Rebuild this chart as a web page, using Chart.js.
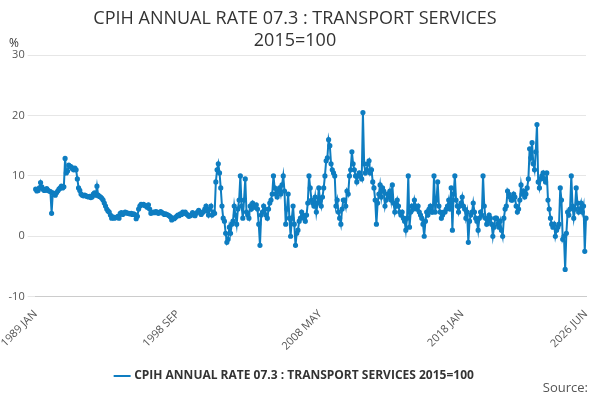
<!DOCTYPE html>
<html>
<head>
<meta charset="utf-8">
<script src="https://cdn.jsdelivr.net/npm/chart.js@4/dist/chart.umd.min.js"></script>
<style>
  body { margin: 0; font-family: "Open Sans", sans-serif; background: #fff; }
  #wrap { position: relative; width: 600px; height: 400px; }
  #source { position: absolute; right: 12px; bottom: 4px; font-size: 13px; color: #555; }
</style>
</head>
<body>
<div id="wrap">
  <canvas id="myChart" width="600" height="400"></canvas>
  <div id="source">Source:</div>
</div>
<script>
var monthNames = ["JAN","FEB","MAR","APR","MAY","JUN","JUL","AUG","SEP","OCT","NOV","DEC"];
var tickLabels = ["1989 JAN", "1998 SEP", "2008 MAY", "2018 JAN", "2026 JUN"];
var seriesName = "CPIH ANNUAL RATE 07.3 : TRANSPORT SERVICES 2015=100";

// yearly rows of monthly values, Jan 1989 .. Jun 2026
var rates1989to1999 = [
  7.8,7.5,7.6,8.0,8.9,8.2,7.8,7.6,7.7,7.9,7.6,7.5,
  7.4,3.8,7.2,7.0,6.8,7.2,7.5,7.8,8.0,8.3,8.0,8.2,
  12.9,10.5,10.8,11.8,11.6,11.5,11.2,11.0,11.3,11.0,9.5,8.0,
  7.6,7.0,6.8,6.7,6.8,6.7,6.6,6.5,6.6,6.4,6.5,7.0,
  7.2,6.8,8.3,6.8,6.6,6.5,6.3,6.0,5.5,5.0,4.5,4.2,
  4.0,3.5,3.0,3.2,3.0,3.1,3.1,3.3,3.0,3.8,3.9,3.6,
  3.8,4.0,3.9,3.8,3.8,3.7,3.8,3.6,3.7,3.6,2.9,3.3,
  4.5,5.0,5.3,5.2,5.3,5.1,5.0,4.8,5.2,4.5,3.8,3.9,
  4.0,3.9,4.1,4.0,3.8,3.9,4.1,3.9,3.8,3.6,3.7,3.6,
  3.5,3.4,3.2,2.7,3.0,2.9,3.1,3.3,3.5,3.4,3.7,3.6,
  4.0,3.8,4.0,3.7,3.5,3.3,3.4,3.6,3.9,3.5,3.4,3.8
];
var rates2000to2012 = [
  4.0,4.3,4.0,3.6,3.9,4.1,4.5,5.0,4.2,3.5,4.5,5.0,
  3.5,4.0,3.8,9.0,11.0,12.0,10.5,8.0,5.0,3.0,2.5,0.5,
  -1.0,-0.5,1.5,0.5,2.0,2.5,5.0,3.5,2.0,4.5,6.0,10.0,
  5.0,3.0,6.0,9.5,4.0,3.5,3.0,5.0,4.5,5.5,5.0,4.8,
  5.2,4.5,2.0,-1.5,3.5,4.0,5.0,4.5,3.5,3.0,4.5,5.5,
  6.0,7.0,10.0,8.0,7.0,6.5,7.5,8.0,7.0,8.5,10.0,7.5,
  2.0,4.5,7.0,3.0,0.0,3.0,5.0,2.0,-1.5,0.5,1.0,2.5,
  3.0,4.0,3.5,3.0,2.5,3.5,5.5,10.0,8.0,6.0,5.5,5.0,
  6.5,4.0,5.5,8.0,6.0,5.0,6.5,8.0,10.0,12.5,13.0,16.0,
  15.0,12.0,11.0,10.5,10.0,5.0,6.0,4.0,3.0,2.0,4.5,6.0,
  6.0,5.0,7.5,7.0,10.0,11.0,14.0,12.0,11.0,10.0,9.0,10.0,
  10.5,10.0,9.5,20.5,12.0,10.5,11.0,12.0,12.5,10.5,11.0,9.0,
  8.0,6.0,2.0,5.5,7.0,8.5,6.5,8.0,7.5,5.0,6.0,7.0
];
var rates2013to2026 = [
  6.5,7.5,6.0,8.5,5.5,4.0,5.0,6.0,5.0,4.0,3.5,4.0,
  3.0,2.5,1.0,3.0,10.0,1.5,4.0,5.0,4.5,6.0,5.0,4.5,
  5.0,4.0,3.5,3.0,2.0,0.0,2.5,4.0,3.5,4.5,5.0,4.0,
  4.0,10.0,4.0,6.0,9.0,5.0,4.0,3.0,3.5,4.0,4.0,4.5,
  5.0,6.0,4.5,8.0,1.0,7.0,10.0,6.0,5.0,4.0,5.0,5.5,
  6.5,5.0,4.5,3.0,4.0,-1.0,2.5,3.5,4.0,5.5,4.0,3.0,
  2.5,1.0,3.0,4.0,3.5,10.0,5.0,3.0,2.0,2.5,3.5,3.0,
  2.0,0.0,1.5,3.0,3.0,2.0,1.5,2.5,1.0,0.0,3.0,4.5,
  5.0,7.5,7.0,6.5,6.0,6.0,7.0,6.5,5.0,4.0,4.5,6.0,
  8.5,7.0,7.5,6.5,7.0,8.0,9.5,14.5,13.0,15.5,12.0,11.0,
  14.0,18.5,9.0,8.0,9.5,10.0,10.5,9.5,9.0,10.5,6.0,4.5,
  3.0,2.0,1.5,2.0,0.0,1.0,1.5,2.0,8.0,6.0,-0.5,0.0,
  -5.5,0.5,4.0,3.5,4.5,10.0,5.0,3.0,4.5,8.0,5.5,4.0,
  4.5,5.5,4.0,5.0,-2.5,3.0
];
var rates = rates1989to1999.concat(rates2000to2012, rates2013to2026);

var labels = [];
for (var i = 0; i < rates.length; i++) {
  labels.push((1989 + Math.floor(i / 12)) + " " + monthNames[i % 12]);
}

var blue = "rgb(14, 125, 193)";
var ctx = document.getElementById("myChart").getContext("2d");
new Chart(ctx, {
  type: "line",
  data: {
    labels: labels,
    datasets: [{
      label: seriesName,
      data: rates,
      borderColor: blue,
      backgroundColor: blue,
      borderWidth: 2,
      pointRadius: 1.6,
      pointHoverRadius: 3,
      tension: 0
    }]
  },
  options: {
    responsive: false,
    animation: false,
    layout: { padding: { left: 4, right: 14, top: 0, bottom: 8 } },
    plugins: {
      title: {
        display: true,
        text: ["CPIH ANNUAL RATE 07.3 : TRANSPORT SERVICES", "2015=100"],
        color: "#333",
        font: { family: "Open Sans", size: 18, weight: "normal" },
        padding: { top: 8, bottom: 4 }
      },
      legend: {
        position: "bottom",
        labels: {
          color: "#333",
          font: { family: "Open Sans", size: 12, weight: "bold" },
          usePointStyle: true,
          pointStyle: "line",
          boxWidth: 16,
          padding: 14
        }
      },
      tooltip: { enabled: false }
    },
    scales: {
      x: {
        grid: { display: false },
        border: { color: "#ccc" },
        ticks: {
          autoSkip: false,
          maxRotation: 45,
          minRotation: 45,
          color: "#555",
          font: { family: "Open Sans", size: 11 },
          callback: function (value) {
            var l = labels[value];
            return tickLabels.indexOf(l) >= 0 ? l : null;
          }
        }
      },
      y: {
        min: -10,
        max: 30,
        title: { display: false },
        grid: { color: "#e6e6e6" },
        border: { display: false },
        ticks: {
          stepSize: 10,
          color: "#555",
          font: { family: "Open Sans", size: 11 }
        }
      }
    }
  },
  plugins: [{
    id: "unitLabel",
    afterDraw: function (chart) {
      var c = chart.ctx;
      c.save();
      c.fillStyle = "#333";
      c.font = "12px 'Open Sans'";
      c.fillText("%", 9, chart.chartArea.top - 12);
      c.restore();
    }
  }]
});
</script>
</body>
</html>
